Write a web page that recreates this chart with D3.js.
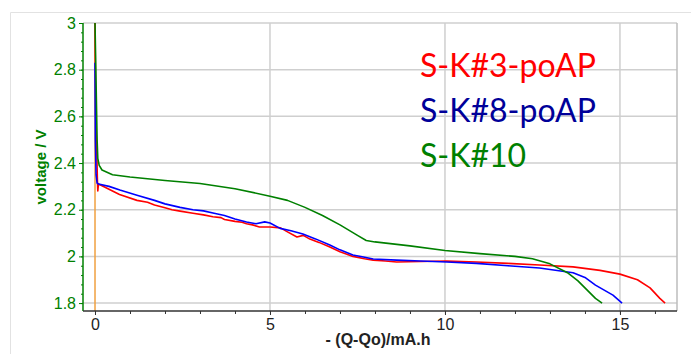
<!DOCTYPE html>
<html>
<head>
<meta charset="utf-8">
<script src="https://cdn.jsdelivr.net/npm/d3@7.9.0/dist/d3.min.js"></script>
<style>
  body { margin: 0; background: #fff; }
  svg { display: block; }
</style>
</head>
<body>
<svg id="chart" width="691" height="354"></svg>
<script>
// discharge curves, capacity (mA.h) vs voltage (V)
const redQ = [0, 0.02, 0.05, 0.07, 0.08, 0.1, 0.3, 0.7, 1.2, 1.5, 1.7, 2.0, 2.2, 2.43, 2.8, 3.1, 3.37, 3.6, 3.7, 4.0, 4.2, 4.33, 4.5, 4.7, 5.0, 5.3, 5.5, 5.77, 5.95, 6.14, 6.4, 6.71, 7.0, 7.37, 7.7, 7.95, 8.3, 8.62, 9.3, 10.05, 10.9, 11.8, 12.7, 13.66, 14.43, 15.0, 15.5, 15.86, 16.14, 16.29];
const redV = [3.0, 2.6, 2.45, 2.32, 2.28, 2.31, 2.295, 2.265, 2.24, 2.232, 2.22, 2.208, 2.2, 2.194, 2.185, 2.178, 2.17, 2.166, 2.158, 2.15, 2.146, 2.14, 2.135, 2.126, 2.126, 2.122, 2.105, 2.083, 2.09, 2.074, 2.06, 2.04, 2.02, 2.0, 1.99, 1.984, 1.98, 1.976, 1.978, 1.98, 1.976, 1.97, 1.963, 1.955, 1.94, 1.924, 1.9, 1.865, 1.82, 1.8];

const blueQ = [0, 0.01, 0.03, 0.06, 0.1, 0.4, 0.71, 1.2, 1.7, 2.0, 2.43, 2.8, 3.1, 3.37, 3.7, 4.0, 4.33, 4.6, 4.85, 5.0, 5.29, 5.6, 5.94, 6.3, 6.71, 7.0, 7.37, 7.67, 7.95, 8.62, 9.3, 10.05, 10.9, 11.8, 12.7, 13.66, 14.0, 14.3, 14.8, 15.06];
const blueV = [2.83, 2.5, 2.35, 2.314, 2.31, 2.3, 2.284, 2.262, 2.24, 2.225, 2.21, 2.2, 2.195, 2.186, 2.175, 2.16, 2.147, 2.14, 2.148, 2.143, 2.12, 2.11, 2.096, 2.075, 2.049, 2.028, 2.006, 1.997, 1.989, 1.984, 1.98, 1.976, 1.97, 1.96, 1.95, 1.93, 1.91, 1.877, 1.834, 1.8];

const greenQ = [0, 0.03, 0.06, 0.08, 0.12, 0.2, 0.5, 1, 2, 3, 4, 5, 5.5, 6, 6.5, 7, 7.5, 7.75, 8, 9, 10, 11, 12, 12.5, 13, 13.5, 13.8, 14.1, 14.3, 14.49];
const greenV = [3.0, 2.75, 2.5, 2.42, 2.39, 2.37, 2.35, 2.34, 2.325, 2.312, 2.29, 2.258, 2.24, 2.21, 2.175, 2.135, 2.09, 2.068, 2.062, 2.045, 2.025, 2.012, 2.0, 1.99, 1.968, 1.93, 1.895, 1.85, 1.82, 1.8];

// start marker at Q = 0
const markerQ = [0, 0];
const markerV = [3.0, 1.766];

const seriesNames = ["S-K#3-poAP", "S-K#8-poAP", "S-K#10"];
const legendColors = ["#ff0000", "#000099", "#008000"];
const lineColors = ["#ff0000", "#0000ff", "#008000"];

const xTicks = [0, 5, 10, 15];
const yTicks = [1.8, 2, 2.2, 2.4, 2.6, 2.8, 3];

const svg = d3.select("#chart");
const plotL = 83, plotR = 677, plotT = 23, plotB = 311;

const x = d3.scaleLinear().domain([-0.343, 16.63]).range([plotL, plotR]);
const y = d3.scaleLinear().domain([1.766, 3]).range([plotB, plotT]);

// outer frame
svg.append("path")
  .attr("d", `M10.5,354V12.5H691`)
  .attr("fill", "none").attr("stroke", "#e2e2e2").attr("stroke-width", 1);

// grid
svg.append("g").selectAll("line").data(yTicks).join("line")
  .attr("x1", plotL).attr("x2", plotR)
  .attr("y1", d => y(d)).attr("y2", d => y(d))
  .attr("stroke", "#cfcfcf").attr("stroke-width", 1.5);
svg.append("g").selectAll("line").data(xTicks.filter(d => d > 0)).join("line")
  .attr("x1", d => x(d)).attr("x2", d => x(d))
  .attr("y1", plotT).attr("y2", plotB)
  .attr("stroke", "#cfcfcf").attr("stroke-width", 1.5);
svg.append("line")
  .attr("x1", plotR).attr("x2", plotR).attr("y1", plotT).attr("y2", plotB)
  .attr("stroke", "#bdbdbd").attr("stroke-width", 1.5);

// lines
const line = d3.line().x(d => x(d[0])).y(d => y(d[1]));
const zip = (a, b) => a.map((v, i) => [v, b[i]]);

svg.append("path").datum(zip(markerQ, markerV))
  .attr("d", line).attr("fill", "none")
  .attr("stroke", "#f0a040").attr("stroke-width", 1.5);

const data = [zip(redQ, redV), zip(blueQ, blueV), zip(greenQ, greenV)];
svg.append("g").selectAll("path").data(data).join("path")
  .attr("d", line).attr("fill", "none")
  .attr("stroke", (d, i) => lineColors[i]).attr("stroke-width", 1.6)
  .attr("stroke-linejoin", "round");

const tickFont = "16px Arial, 'Liberation Sans', sans-serif";

// y axis (green)
const yAxis = svg.append("g")
  .attr("transform", `translate(${plotL},0)`)
  .call(d3.axisLeft(y).tickValues(yTicks).tickFormat(d3.format("~g")).tickSize(4).tickPadding(3));
yAxis.select(".domain").attr("stroke", "#008000").attr("stroke-width", 1.5)
  .attr("d", `M0,${plotT}V${plotB}`);
yAxis.selectAll(".tick line").attr("stroke", "#008000");
yAxis.selectAll("text").attr("fill", "#008000").style("font", tickFont);
svg.append("g").attr("transform", `translate(${plotL},0)`)
  .call(d3.axisLeft(y).tickValues(d3.range(1.8, 3.0001, 0.04)).tickFormat("").tickSize(2))
  .call(g => g.select(".domain").remove())
  .selectAll(".tick line").attr("stroke", "#008000");

// x axis
const xAxis = svg.append("g")
  .attr("transform", `translate(0,${plotB})`)
  .call(d3.axisBottom(x).tickValues(xTicks).tickSize(4).tickPadding(4));
xAxis.select(".domain").attr("stroke", "#333").attr("stroke-width", 1.5)
  .attr("d", `M${plotL},0H${plotR}`);
xAxis.selectAll(".tick line").attr("stroke", "#333");
xAxis.selectAll("text").attr("fill", "#222").style("font", tickFont);
svg.append("g").attr("transform", `translate(0,${plotB})`)
  .call(d3.axisBottom(x).tickValues(d3.range(0, 17, 1)).tickFormat("").tickSize(3))
  .call(g => g.select(".domain").remove())
  .selectAll(".tick line").attr("stroke", "#333");

// axis titles
svg.append("text")
  .attr("transform", `translate(46,${(plotT + plotB) / 2}) rotate(-90)`)
  .attr("text-anchor", "middle")
  .attr("fill", "#008000")
  .style("font", "bold 15px Arial, 'Liberation Sans', sans-serif")
  .text("voltage / V");
svg.append("text")
  .attr("x", 378).attr("y", 345)
  .attr("text-anchor", "middle")
  .attr("fill", "#222")
  .style("font", "bold 16px Arial, 'Liberation Sans', sans-serif")
  .text("- (Q-Qo)/mA.h");

// legend labels
svg.append("g").selectAll("text").data(seriesNames).join("text")
  .attr("x", 420).attr("y", (d, i) => 77 + i * 45)
  .attr("fill", (d, i) => legendColors[i])
  .style("font", "32px Lato, 'Open Sans', sans-serif")
  .text(d => d);
</script>
</body>
</html>
